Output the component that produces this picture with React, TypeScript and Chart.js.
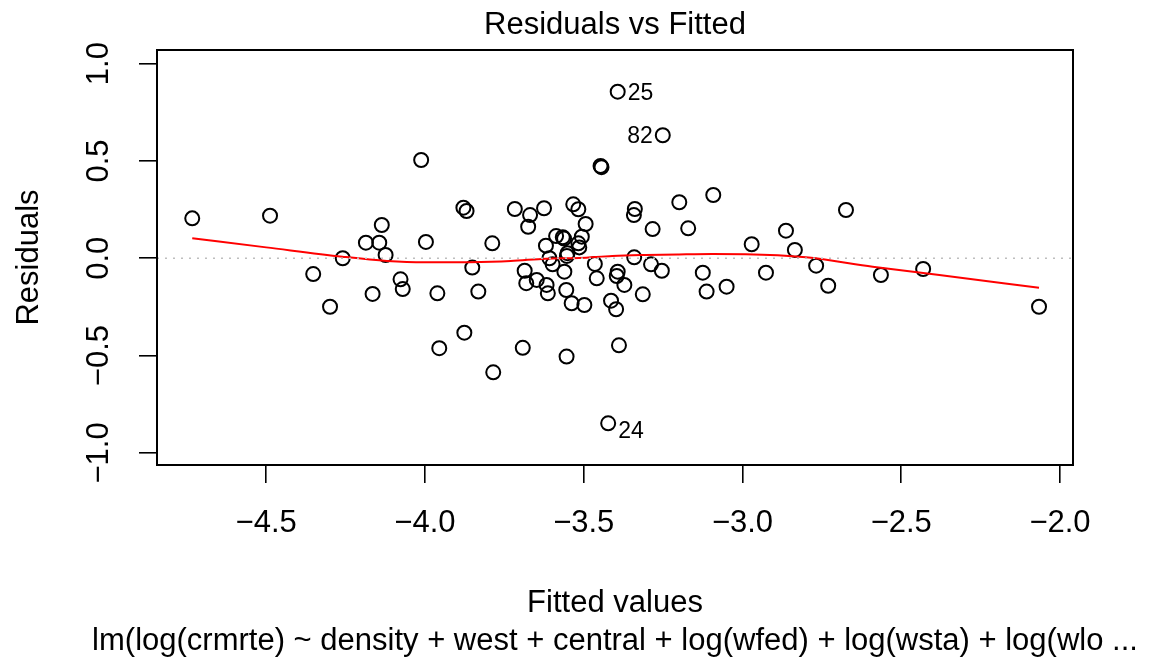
import { useEffect, useRef } from 'react';
import { Chart, registerables } from 'chart.js';

Chart.register(...registerables);

// ---- data ----
const fittedValues = [
  -4.733, -4.488, -4.012, -3.879, -3.869, -4.136, -3.997, -4.186, -4.144, -4.124,
  -4.259, -4.352, -4.077, -4.070, -4.165, -3.961, -4.299, -3.876, -3.955, -3.393,
  -3.251, -3.447, -3.444, -3.717, -3.669, -3.625, -3.675, -3.533, -3.517, -3.494,
  -3.339, -3.342, -3.199, -3.092, -3.283, -3.171, -3.788, -2.971, -3.587, -3.566,
  -3.562, -3.506, -3.517, -3.514, -3.619, -3.551, -3.553, -3.608, -3.598, -3.341,
  -3.465, -3.851, -3.832, -3.686, -3.681, -3.648, -3.617, -3.613, -3.561, -3.555,
  -3.538, -3.498, -3.459, -3.393, -3.396, -3.372, -3.414, -3.398, -3.314, -3.288,
  -3.254, -3.125, -3.113, -3.050, -3.692, -3.389, -3.785, -3.554, -3.423, -2.674,
  -2.863, -2.835, -2.926, -2.768, -2.730, -2.564, -2.431, -2.066,
];

const residuals = [
  0.205, 0.219, 0.505, 0.260, 0.243, 0.171, 0.084, 0.080, 0.080, 0.017,
  0.000, -0.081, -0.108, -0.158, -0.183, -0.180, -0.249, -0.382, -0.462, 0.856,
  0.632, 0.474, 0.468, 0.253, 0.222, 0.257, 0.162, 0.277, 0.252, 0.176,
  0.253, 0.222, 0.288, 0.325, 0.150, 0.154, 0.077, 0.072, 0.114, 0.108,
  0.101, 0.111, 0.077, 0.056, 0.065, 0.026, 0.012, 0.000, -0.031, 0.005,
  -0.029, -0.048, -0.171, -0.064, -0.128, -0.111, -0.137, -0.180, -0.069, -0.163,
  -0.231, -0.240, -0.103, -0.069, -0.091, -0.137, -0.218, -0.262, -0.185, -0.031,
  -0.064, -0.074, -0.171, -0.146, -0.460, -0.447, -0.586, -0.505, -0.848, 0.248,
  0.142, 0.043, -0.074, -0.038, -0.141, -0.086, -0.055, -0.249,
];

// indices (0-based) of the identified observations and their names
const labeledIndex = [19, 20, 78];
const labeledNames = ['25', '82', '24'];

// lowess smooth (red line)
const smoothFitted = [
  -4.733, -4.50, -4.26, -4.12, -4.00, -3.86, -3.73, -3.62, -3.515,
  -3.41, -3.305, -3.20, -3.095, -2.99, -2.80, -2.59, -2.38, -2.066,
];
const smoothResiduals = [
  0.103, 0.056, 0.008, -0.014, -0.021, -0.020, -0.014, -0.002, 0.002,
  0.012, 0.017, 0.020, 0.022, 0.021, 0.005, -0.043, -0.086, -0.151,
];

const xTicks = [-4.5, -4.0, -3.5, -3.0, -2.5, -2.0];
const yTicks = [-1.0, -0.5, 0.0, 0.5, 1.0];
const xLimits = [-4.844, -1.959];
const yLimits = [-1.062, 1.07];

const mainTitle = 'Residuals vs Fitted';
const xTitle = 'Fitted values';
const yTitle = 'Residuals';
const subCaption =
  'lm(log(crmrte) ~ density + west + central + log(wfed) + log(wsta) + log(wlo ...';

const FONT = '"Liberation Sans", Arial, Helvetica, sans-serif';
const FS = 31;
const fmt = (v: number) => (v < 0 ? '\u2212' : '') + Math.abs(v).toFixed(1);

const rDecorations = {
  id: 'rDecorations',
  afterDraw(chart: any) {
    const { ctx, chartArea: a, scales } = chart;
    const xs = scales.x;
    const ys = scales.y;
    ctx.save();
    // box
    ctx.strokeStyle = '#000';
    ctx.lineWidth = 2;
    ctx.strokeRect(a.left, a.top, a.right - a.left, a.bottom - a.top);
    // titles
    ctx.fillStyle = '#000';
    ctx.font = `${FS}px ${FONT}`;
    ctx.textAlign = 'center';
    ctx.textBaseline = 'alphabetic';
    const cx = (a.left + a.right) / 2;
    ctx.fillText(mainTitle, cx, 34);
    ctx.fillText(xTitle, cx, 612);
    ctx.fillText(subCaption, cx, 650);
    ctx.save();
    ctx.translate(38, (a.top + a.bottom) / 2);
    ctx.rotate(-Math.PI / 2);
    ctx.fillText(yTitle, 0, 0);
    ctx.restore();
    // identified points
    const lx = labeledIndex.map((i) => fittedValues[i]);
    const mid = (Math.min(...lx) + Math.max(...lx)) / 2;
    ctx.font = `${Math.round(FS * 0.75)}px ${FONT}`;
    labeledIndex.forEach((idx, k) => {
      const px = xs.getPixelForValue(fittedValues[idx]);
      let py = ys.getPixelForValue(residuals[idx]);
      if (residuals[idx] < 0) py += 7;
      const right = fittedValues[idx] <= mid;
      ctx.textAlign = right ? 'left' : 'right';
      ctx.fillText(labeledNames[k], px + (right ? 10 : -10), py + 8);
    });
    ctx.restore();
  },
};

export default function App() {
  const ref = useRef<HTMLCanvasElement | null>(null);

  useEffect(() => {
    const canvas = ref.current;
    if (!canvas) return;
    const chart = new Chart(canvas, {
      type: 'scatter',
      data: {
        datasets: [
          {
            label: 'zero',
            type: 'line',
            data: [
              { x: xLimits[0], y: 0 },
              { x: xLimits[1], y: 0 },
            ],
            borderColor: '#bebebe',
            borderWidth: 1.6,
            borderDash: [2, 6],
            pointRadius: 0,
            order: 0,
          } as any,
          {
            label: 'smooth',
            type: 'line',
            data: smoothFitted.map((x, i) => ({ x, y: smoothResiduals[i] })),
            borderColor: '#ff0000',
            borderWidth: 2,
            pointRadius: 0,
            cubicInterpolationMode: 'monotone',
            order: 1,
          } as any,
          {
            label: 'residuals',
            data: fittedValues.map((x, i) => ({ x, y: residuals[i] })),
            pointStyle: 'circle',
            pointRadius: 7,
            pointHoverRadius: 7,
            borderColor: '#000',
            borderWidth: 2,
            backgroundColor: 'rgba(0,0,0,0)',
            order: 2,
          },
        ],
      },
      options: {
        animation: false,
        responsive: false,
        devicePixelRatio: 1,
        events: [],
        layout: { padding: { top: 50, right: 90, left: 0, bottom: 0 } },
        plugins: {
          legend: { display: false },
          tooltip: { enabled: false },
          title: { display: false },
        },
        scales: {
          x: {
            type: 'linear',
            min: xLimits[0],
            max: xLimits[1],
            afterBuildTicks: (s: any) => {
              s.ticks = xTicks.map((value) => ({ value }));
            },
            afterFit: (s: any) => {
              s.height = 195;
            },
            border: { display: false },
            grid: {
              drawOnChartArea: false,
              drawTicks: true,
              tickLength: 18,
              color: '#000',
              lineWidth: 1.6,
            },
            ticks: {
              autoSkip: false,
              maxRotation: 0,
              minRotation: 0,
              padding: 22,
              color: '#000',
              font: { family: FONT, size: FS },
              callback: (v: any) => fmt(Number(v)),
            },
          },
          y: {
            type: 'linear',
            min: yLimits[0],
            max: yLimits[1],
            afterBuildTicks: (s: any) => {
              s.ticks = yTicks.map((value) => ({ value }));
            },
            afterFit: (s: any) => {
              s.width = 157;
            },
            border: { display: false },
            grid: {
              drawOnChartArea: false,
              drawTicks: true,
              tickLength: 18,
              color: '#000',
              lineWidth: 1.6,
            },
            ticks: {
              autoSkip: false,
              minRotation: 90,
              maxRotation: 90,
              crossAlign: 'center',
              padding: 9,
              color: '#000',
              font: { family: FONT, size: FS },
              callback: (v: any) => fmt(Number(v)),
            },
          },
        },
      },
      plugins: [rDecorations],
    });
    return () => chart.destroy();
  }, []);

  return (
    <div style={{ position: 'fixed', left: 0, top: 0, width: 1163, height: 660, background: '#fff' }}>
      <canvas ref={ref} width={1163} height={660} style={{ display: 'block' }} />
    </div>
  );
}
